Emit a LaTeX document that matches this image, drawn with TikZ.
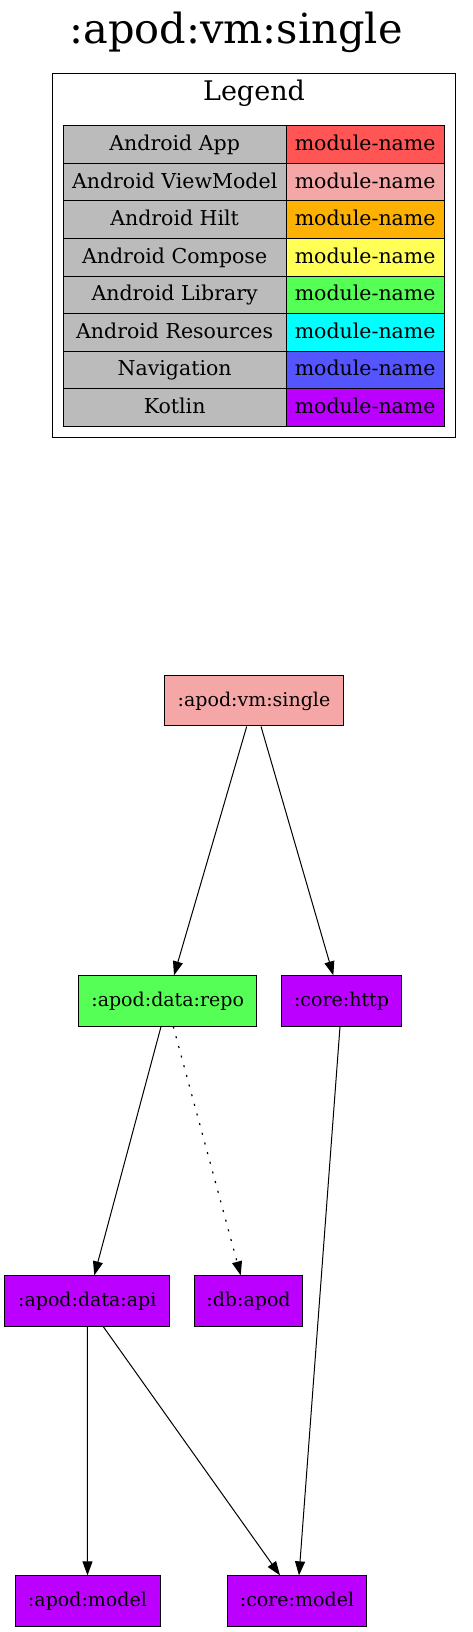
\documentclass[tikz,border=0pt]{standalone}
\usepackage{fontspec}
\setmainfont{DejaVu Serif}
\usetikzlibrary{arrows.meta}
\definecolor{cApp}{HTML}{FF5555}
\definecolor{cVM}{HTML}{F5A6A6}
\definecolor{cHilt}{HTML}{FCB103}
\definecolor{cCompose}{HTML}{FFFF55}
\definecolor{cLib}{HTML}{55FF55}
\definecolor{cRes}{HTML}{00FFFF}
\definecolor{cNav}{HTML}{5555FF}
\definecolor{cKotlin}{HTML}{BB00FF}
\definecolor{cGray}{HTML}{BBBBBB}
\tikzset{
  cellL/.style={draw=black, line width=1pt, fill=cGray, rectangle, inner sep=0pt,
    minimum width=222.7pt, minimum height=37.5pt, text height=14.5pt, text depth=2.9pt,
    font=\fontsize{20.5}{24}\selectfont},
  cellR/.style={draw=black, line width=1pt, fill=#1, rectangle, inner sep=0pt,
    minimum width=158.3pt, minimum height=37.5pt, text height=14.5pt, text depth=2.9pt,
    font=\fontsize{20.5}{24}\selectfont},
  mod/.style={draw=black, line width=1pt, fill=#1, rectangle, inner sep=0pt,
    minimum height=50.3pt, text height=13.5pt, text depth=2.1pt,
    font=\fontsize{19}{23}\selectfont},
  dep/.style={line width=1pt, -{Triangle[length=14pt,width=10pt]}},
  optdep/.style={dep, line width=1.2pt, dash pattern=on 2pt off 8pt},
}
\begin{document}
\begin{tikzpicture}[x=1pt,y=-1pt]
\useasboundingbox (0,0) rectangle (472,1632);
\node[anchor=base, font=\fontsize{41.5}{48}\selectfont, inner sep=0pt] (title) at (236,43.3) {:apod:vm:single};
\node[draw=black, line width=1pt, rectangle, inner sep=0pt, minimum width=403.4pt, minimum height=364pt] (legend) at (254,255.3) {};
\node[anchor=base, font=\fontsize{27}{32}\selectfont, inner sep=0pt] (legendtitle) at (254,100.3) {Legend};
\foreach \i/\t/\c in {1/Android App/cApp, 2/Android ViewModel/cVM, 3/Android Hilt/cHilt, 4/Android Compose/cCompose, 5/Android Library/cLib, 6/Android Resources/cRes, 7/Navigation/cNav, 8/Kotlin/cKotlin}{
  \node[cellL] (l\i) at (174.65,{126+37.5*(\i-0.5)}) {\t};
  \node[cellR=\c] (r\i) at (365.15,{126+37.5*(\i-0.5)}) {module-name};
}
\node[mod=cVM, minimum width=179.4pt] (vm) at (254,700.8) {:apod:vm:single};
\node[mod=cLib, minimum width=178pt] (repo) at (167.7,1001) {:apod:data:repo};
\node[mod=cKotlin, minimum width=119.7pt] (http) at (341.5,1001) {:core:http};
\node[mod=cKotlin, minimum width=164.7pt] (api) at (87.3,1301) {:apod:data:api};
\node[mod=cKotlin, minimum width=108.3pt] (db) at (248.5,1301) {:db:apod};
\node[mod=cKotlin, minimum width=145pt] (amodel) at (87.5,1601) {:apod:model};
\node[mod=cKotlin, minimum width=139.3pt] (cmodel) at (297,1601) {:core:model};
\draw[dep] ([xshift=-7.3pt]vm.south) -- ([xshift=6.3pt]repo.north);
\draw[dep] ([xshift=7pt]vm.south) -- ([xshift=-8.2pt]http.north);
\draw[dep] ([xshift=-6.7pt]repo.south) -- ([xshift=7pt]api.north);
\draw[optdep] ([xshift=5.6pt]repo.south) -- ([xshift=-7.8pt]db.north);
\draw[dep] ([xshift=-1.5pt]http.south) -- ([xshift=2pt]cmodel.north);
\draw[dep] (api.south) -- (amodel.north);
\draw[dep] ([xshift=16pt]api.south) -- ([xshift=-17pt]cmodel.north);
\end{tikzpicture}
\end{document}
